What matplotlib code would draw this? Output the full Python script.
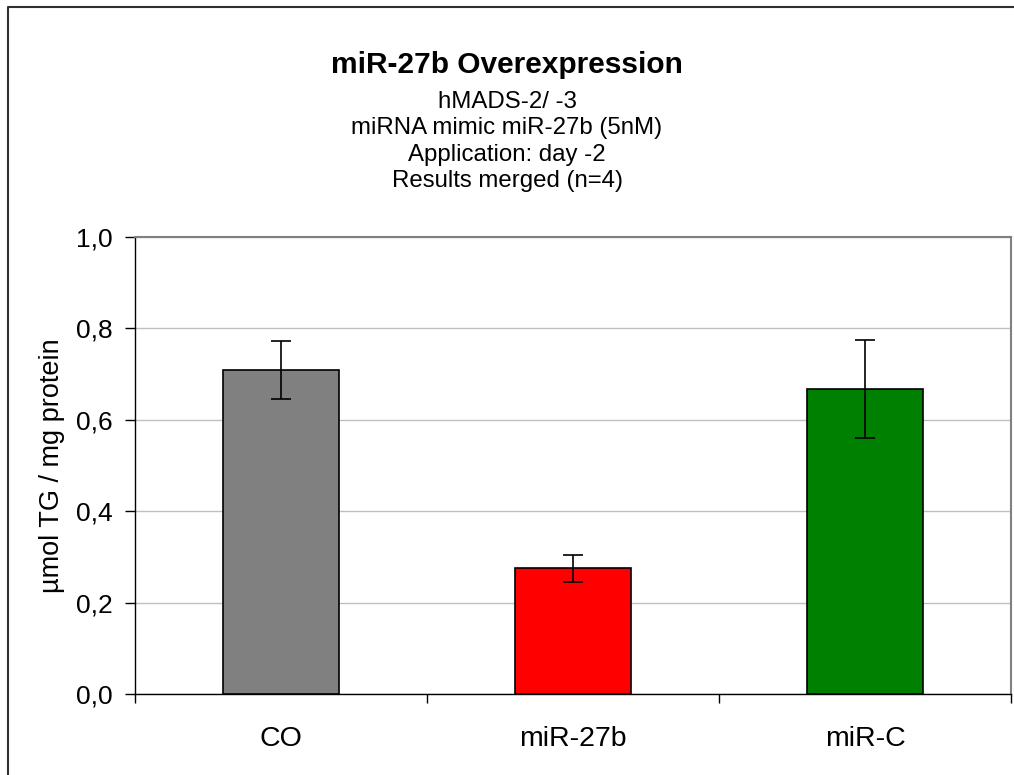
import matplotlib
matplotlib.use('Agg')
import matplotlib.pyplot as plt
from matplotlib.lines import Line2D
from matplotlib.ticker import FixedLocator, FuncFormatter

plt.rcParams['font.family'] = ['Liberation Sans', 'DejaVu Sans']

# data
groups = ['CO', 'miR-27b', 'miR-C']
values = [0.709, 0.275, 0.667]
errors = [0.064, 0.029, 0.107]
colors = ['#808080', '#ff0000', '#008000']
title = 'miR-27b Overexpression'
subtitle = ['hMADS-2/ -3', 'miRNA mimic miR-27b (5nM)',
            'Application: day -2', 'Results merged (n=4)']
ylabel = 'µmol TG / mg protein'

W, H = 1014, 775
fig = plt.figure(figsize=(W / 100, H / 100), dpi=100)
ax = fig.add_axes([135 / W, 81 / H, 876 / W, 457 / H])

x = list(range(len(groups)))
ax.bar(x, values, width=0.4, color=colors, edgecolor='black', linewidth=1.2, zorder=3)
ax.errorbar(x, values, yerr=errors, fmt='none', ecolor='black',
            elinewidth=1.2, capsize=7, capthick=1.2, zorder=4)

ax.set_xlim(-0.5, len(groups) - 0.5)
ax.set_ylim(0, 1.0)
ax.set_yticks([0, 0.2, 0.4, 0.6, 0.8, 1.0])
ax.yaxis.set_major_formatter(FuncFormatter(lambda v, p: f'{v:.1f}'.replace('.', ',')))
ax.grid(axis='y', color='#c0c0c0', linewidth=1, zorder=0)

ax.set_xticks(x)
ax.set_xticklabels(groups)
ax.xaxis.set_minor_locator(FixedLocator([i - 0.5 for i in range(len(groups) + 1)]))
ax.tick_params(axis='x', which='major', length=0, pad=23, labelsize=20.5)
ax.tick_params(axis='x', which='minor', length=6.5, width=1, direction='out')
ax.tick_params(axis='y', length=7.2, width=1, direction='out', labelsize=19, pad=9)

for s in ['top', 'right']:
    ax.spines[s].set_color('#808080')
    ax.spines[s].set_linewidth(1.5)
for s in ['left', 'bottom']:
    ax.spines[s].set_color('black')
    ax.spines[s].set_linewidth(1)

ax.set_ylabel(ylabel, fontsize=19.5, va='center')
ax.yaxis.set_label_coords(-0.0947, 0.5)

fig.text(0.5, 1 - 73 / H, title, ha='center', va='baseline', fontsize=21.5, fontweight='bold')
for i, line in enumerate(subtitle):
    fig.text(0.5, 1 - (108 + 26.3 * i) / H, line, ha='center', va='baseline', fontsize=17.3)

# outer chart border (left and top edges visible)
fig.add_artist(Line2D([8 / W, 8 / W, 1.0], [0, 1 - 7 / H, 1 - 7 / H],
                      transform=fig.transFigure, color='#303030', linewidth=1.5))

fig.savefig('out.png', dpi=100, facecolor='white')
